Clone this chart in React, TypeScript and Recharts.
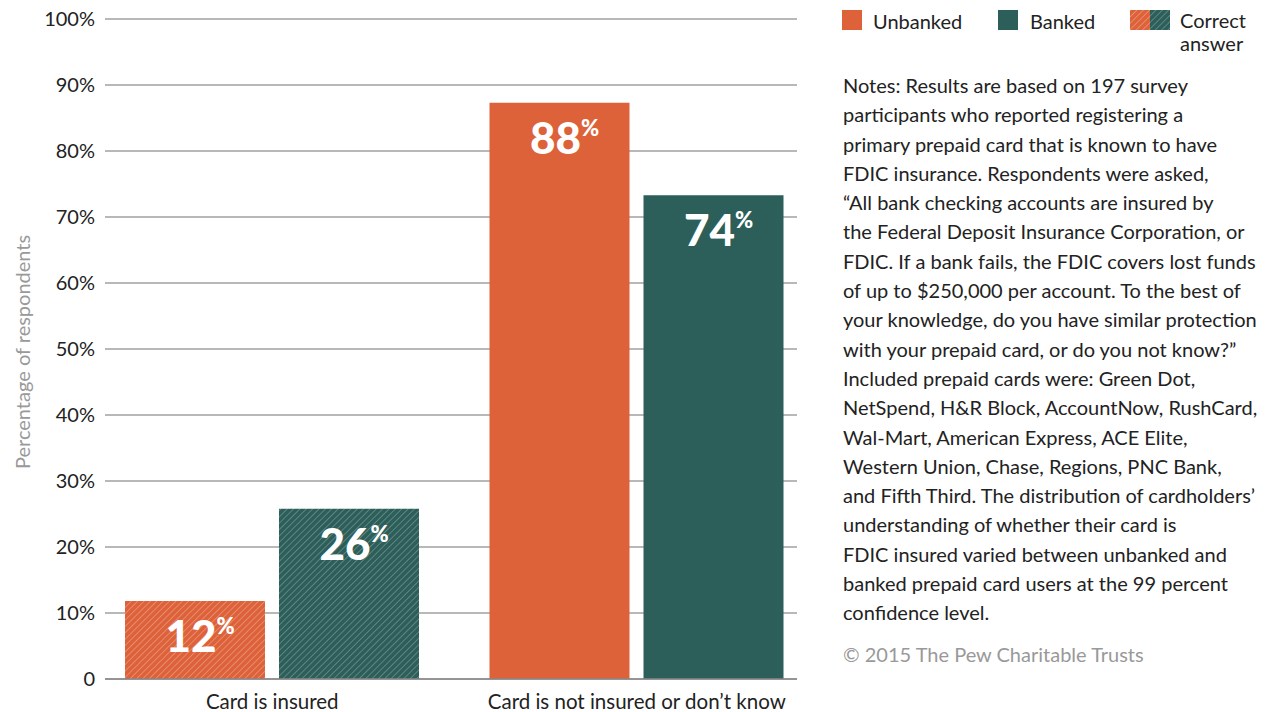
import React from "react";
import { BarChart, Bar, XAxis, YAxis, CartesianGrid, Cell, LabelList } from "recharts";

const categories = ["Card is insured", "Card is not insured or don\u2019t know"];
const unbanked = [11.8, 87.3];
const banked = [25.8, 73.3];
const unbankedLabels = ["12", "88"];
const bankedLabels = ["26", "74"];
const correctIndex = 0;
const yTicks = [0, 10, 20, 30, 40, 50, 60, 70, 80, 90, 100];
const notesLines = [
  "Notes: Results are based on 197 survey",
  "participants who reported registering a",
  "primary prepaid card that is known to have",
  "FDIC insurance. Respondents were asked,",
  "\u201cAll bank checking accounts are insured by",
  "the Federal Deposit Insurance Corporation, or",
  "FDIC. If a bank fails, the FDIC covers lost funds",
  "of up to $250,000 per account. To the best of",
  "your knowledge, do you have similar protection",
  "with your prepaid card, or do you not know?\u201d",
  "Included prepaid cards were: Green Dot,",
  "NetSpend, H&R Block, AccountNow, RushCard,",
  "Wal-Mart, American Express, ACE Elite,",
  "Western Union, Chase, Regions, PNC Bank,",
  "and Fifth Third. The distribution of cardholders\u2019",
  "understanding of whether their card is",
  "FDIC insured varied between unbanked and",
  "banked prepaid card users at the 99 percent",
  "confidence level.",
];
const copyright = "\u00a9 2015 The Pew Charitable Trusts";

const ORANGE = "#DD6139";
const GREEN = "#2D5F5A";
const FONT = "Lato, 'Open Sans', sans-serif";

const data = categories.map((c, i) => ({
  name: c,
  unbanked: unbanked[i],
  banked: banked[i],
  uLabel: unbankedLabels[i],
  bLabel: bankedLabels[i],
}));

const makeLabel = (labels: string[]) => (props: any) => {
  const { x, y, width, index } = props;
  const cx = Number(x) + Number(width) / 2;
  return (
    <text
      x={cx + 5}
      y={Number(y) + 51}
      textAnchor="middle"
      fill="#fff"
      fontFamily={FONT}
      fontWeight={900}
      fontSize={44}
    >
      {labels[index]}
      <tspan fontSize={22} dy={-18}>%</tspan>
    </text>
  );
};

export default function App() {
  return (
    <div style={{ position: "absolute", left: 0, top: 0, width: 1265, height: 712, background: "#fff", fontFamily: FONT }}>
      <BarChart
        width={1265}
        height={712}
        data={data}
        margin={{ top: 19, right: 468, bottom: 0, left: 8 }}
        barGap={14}
        barSize={140}
      >
        <defs>
          <pattern id="hatchOrange" width="4.5" height="4.5" patternUnits="userSpaceOnUse" patternTransform="rotate(45)">
            <rect width="4.5" height="4.5" fill={ORANGE} />
            <line x1="0" y1="0" x2="0" y2="4.5" stroke="#fff" strokeOpacity={0.4} strokeWidth={1.3} />
          </pattern>
          <pattern id="hatchGreen" width="4.5" height="4.5" patternUnits="userSpaceOnUse" patternTransform="rotate(45)">
            <rect width="4.5" height="4.5" fill={GREEN} />
            <line x1="0" y1="0" x2="0" y2="4.5" stroke="#fff" strokeOpacity={0.35} strokeWidth={1.3} />
          </pattern>
        </defs>
        <CartesianGrid vertical={false} stroke="#a0a0a0" strokeWidth={1.3} />
        <XAxis
          dataKey="name"
          padding={{ left: -15, right: -22 }}
          tickLine={false}
          axisLine={{ stroke: "#888", strokeWidth: 1.5 }}
          tick={{ fill: "#222", fontSize: 20.5, fontFamily: FONT }}
          height={33}
          tickMargin={9}
          interval={0}
        />
        <YAxis
          domain={[0, 100]}
          ticks={yTicks}
          tickFormatter={(v: number) => (v === 0 ? "0" : v + "%")}
          tickLine={false}
          axisLine={false}
          width={97}
          tickMargin={4}
          tick={{ fill: "#222", fontSize: 20, fontFamily: FONT }}
          label={{
            value: "Percentage of respondents",
            angle: -90,
            position: "insideLeft",
            dx: 10,
            dy: 120,
            fill: "#999",
            fontSize: 20,
            fontFamily: FONT,
          }}
        />
        <Bar dataKey="unbanked" fill={ORANGE} isAnimationActive={false}>
          {data.map((_, i) => (
            <Cell key={i} fill={i === correctIndex ? "url(#hatchOrange)" : ORANGE} />
          ))}
          <LabelList dataKey="uLabel" content={makeLabel(unbankedLabels)} />
        </Bar>
        <Bar dataKey="banked" fill={GREEN} isAnimationActive={false}>
          {data.map((_, i) => (
            <Cell key={i} fill={i === correctIndex ? "url(#hatchGreen)" : GREEN} />
          ))}
          <LabelList dataKey="bLabel" content={makeLabel(bankedLabels)} />
        </Bar>
      </BarChart>

      {/* Legend */}
      <div style={{ position: "absolute", left: 842, top: 10, width: 420, height: 50, fontSize: 20, color: "#222" }}>
        <div style={{ position: "absolute", left: 0, top: 0, width: 20, height: 20, background: ORANGE }} />
        <div style={{ position: "absolute", left: 31, top: -1, lineHeight: "25px" }}>Unbanked</div>
        <div style={{ position: "absolute", left: 156, top: 0, width: 20, height: 20, background: GREEN }} />
        <div style={{ position: "absolute", left: 188, top: -1, lineHeight: "25px" }}>Banked</div>
        <svg style={{ position: "absolute", left: 288, top: 0 }} width={40} height={20}>
          <rect x={0} y={0} width={20} height={20} fill="url(#hatchOrange)" />
          <rect x={20} y={0} width={20} height={20} fill="url(#hatchGreen)" />
        </svg>
        <div style={{ position: "absolute", left: 338, top: -1, lineHeight: "23px" }}>
          Correct
          <br />
          answer
        </div>
      </div>

      {/* Notes */}
      <div style={{ position: "absolute", left: 843, top: 71, fontSize: 20, lineHeight: "29.3px", color: "#222", whiteSpace: "nowrap" }}>
        {notesLines.map((l, i) => (
          <div key={i}>{l}</div>
        ))}
        <div style={{ color: "#999", marginTop: 12 }}>{copyright}</div>
      </div>
    </div>
  );
}
